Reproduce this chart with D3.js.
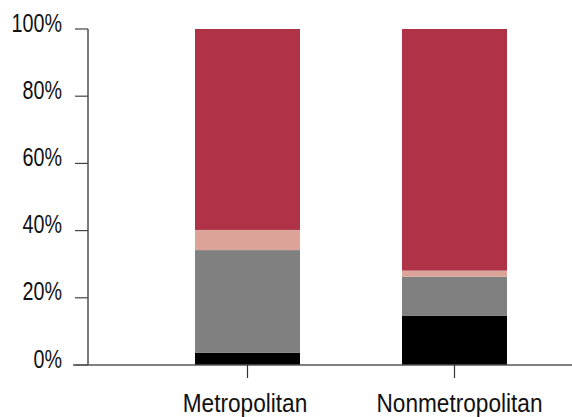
<!DOCTYPE html>
<html>
<head>
<meta charset="utf-8">
<script src="https://cdn.jsdelivr.net/npm/d3@7"></script>
<style>
  html, body { margin: 0; padding: 0; background: #fff; }
  svg { display: block; }
  text { font-family: "Liberation Sans", Arial, sans-serif; fill: #111; }
</style>
</head>
<body>
<svg id="chart" width="572" height="417"></svg>
<script>
const categories = ["Metropolitan", "Nonmetropolitan"];
const seriesKeys = ["black", "gray", "pink", "red"];
const blackValues = [3.6, 14.6];
const grayValues = [30.6, 11.7];
const pinkValues = [6.0, 1.8];
const redValues = [59.8, 71.9];
const yTicks = [0, 20, 40, 60, 80, 100];
const colors = { black: "#000000", gray: "#808080", pink: "#DCA398", red: "#B03246" };

const rows = categories.map((c, i) => ({
  category: c,
  black: blackValues[i],
  gray: grayValues[i],
  pink: pinkValues[i],
  red: redValues[i]
}));

const svg = d3.select("#chart");

const x = d3.scaleBand()
  .domain(categories)
  .range([91.5, 610.5])
  .paddingInner(0.4928)
  .paddingOuter(0.5);

const y = d3.scaleLinear().domain([0, 100]).range([365, 29]);

const stack = d3.stack().keys(seriesKeys);
const stacked = stack(rows);

svg.append("g")
  .selectAll("g")
  .data(stacked)
  .join("g")
  .attr("fill", d => colors[d.key])
  .selectAll("rect")
  .data(d => d)
  .join("rect")
  .attr("x", d => x(d.data.category))
  .attr("width", x.bandwidth())
  .attr("y", d => y(d[1]))
  .attr("height", d => y(d[0]) - y(d[1]));

// Y axis
const yAxis = svg.append("g");
yAxis.append("line")
  .attr("x1", 88).attr("x2", 88)
  .attr("y1", y(100)).attr("y2", y(0))
  .attr("stroke", "#222").attr("stroke-width", 1.2);
yAxis.selectAll("line.tick")
  .data(yTicks)
  .join("line")
  .attr("class", "tick")
  .attr("x1", 75).attr("x2", 88)
  .attr("y1", d => y(d)).attr("y2", d => y(d))
  .attr("stroke", "#444").attr("stroke-width", 1.2);
yAxis.selectAll("text")
  .data(yTicks)
  .join("text")
  .attr("transform", d => `translate(62,${y(d) + 2.5}) scale(0.79,1)`)
  .attr("text-anchor", "end")
  .attr("font-size", 25)
  .text(d => d + "%");

// X axis
const xAxis = svg.append("g");
xAxis.append("line")
  .attr("x1", 73).attr("x2", 572)
  .attr("y1", y(0)).attr("y2", y(0))
  .attr("stroke", "#555").attr("stroke-width", 1.6);
xAxis.selectAll("line.tick")
  .data(categories)
  .join("line")
  .attr("class", "tick")
  .attr("x1", d => x(d) + x.bandwidth() / 2)
  .attr("x2", d => x(d) + x.bandwidth() / 2)
  .attr("y1", y(0)).attr("y2", y(0) + 13)
  .attr("stroke", "#333").attr("stroke-width", 1.2);
xAxis.selectAll("text")
  .data(categories)
  .join("text")
  .attr("transform", (d, i) => `translate(${x(d) + x.bandwidth() / 2 + (i === 0 ? -2.5 : 5)},411.5) scale(0.905,1)`)
  .attr("text-anchor", "middle")
  .attr("font-size", 25)
  .text(d => d);
</script>
</body>
</html>
